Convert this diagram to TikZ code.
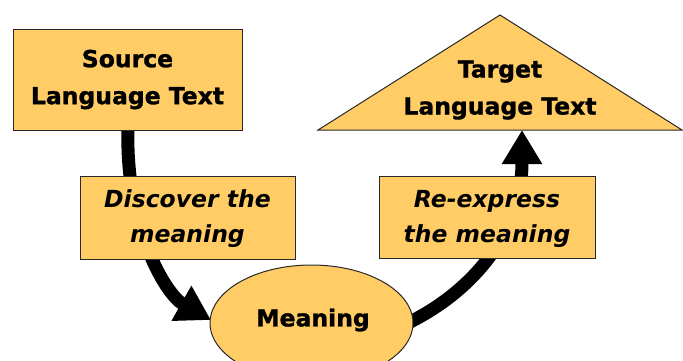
\documentclass[tikz,border=0pt]{standalone}
\usepackage{fontspec}
\setmainfont{DejaVu Sans}[BoldFeatures={FakeBold=1.2}]
\usetikzlibrary{arrows.meta,shapes.geometric}
\definecolor{boxfill}{RGB}{255,204,102}
\definecolor{boxline}{RGB}{40,40,40}
\begin{document}
\begin{tikzpicture}[x=1pt,y=-1pt,
  lbl/.style={font=\fontsize{23.5}{37}\selectfont\bfseries, align=center, text=black},
  ilbl/.style={font=\fontsize{23.5}{35}\selectfont\bfseries\itshape, align=center, text=black},
  boxshape/.style={draw=boxline, line width=1pt, fill=boxfill},
  flow/.style={line width=13pt, draw=black},
  flowtip/.style={-{Triangle[length=34pt,width=38pt]}}
]
\useasboundingbox (0,0) rectangle (683,360);
\clip (0,0) rectangle (683,360);

% connectors (drawn first, boxes on top)
\coordinate (srcbot) at (128,128);
\coordinate (meanL) at (211,320);
\coordinate (meanR) at (410,322);
\coordinate (tgtbot) at (522,130);
\draw[flow, flowtip] (srcbot) .. controls (125,225) and (165,294) .. (meanL);
\draw[flow, flowtip] (meanR) .. controls (470,292) and (522,235) .. (tgtbot);

% nodes
\draw[boxshape] (13,29) rectangle (242,130);
\node[lbl] (src) at (127.5,79.5) {Source\\Language Text};

\draw[boxshape] (318,130) -- (682,130) -- (500,15) -- cycle;
\node[lbl] (tgt) at (500,90) {Target\\Language Text};

\draw[boxshape] (80,176) rectangle (295,259);
\node[ilbl] (disc) at (187.5,219) {Discover the\\meaning};

\draw[boxshape] (379,176) rectangle (595,258);
\node[ilbl] (reex) at (487,219) {Re-express\\the meaning};

\draw[boxshape] (311.5,323) ellipse [x radius=101.5, y radius=58];
\node[lbl] (mean) at (313,320) {Meaning};
\end{tikzpicture}
\end{document}
